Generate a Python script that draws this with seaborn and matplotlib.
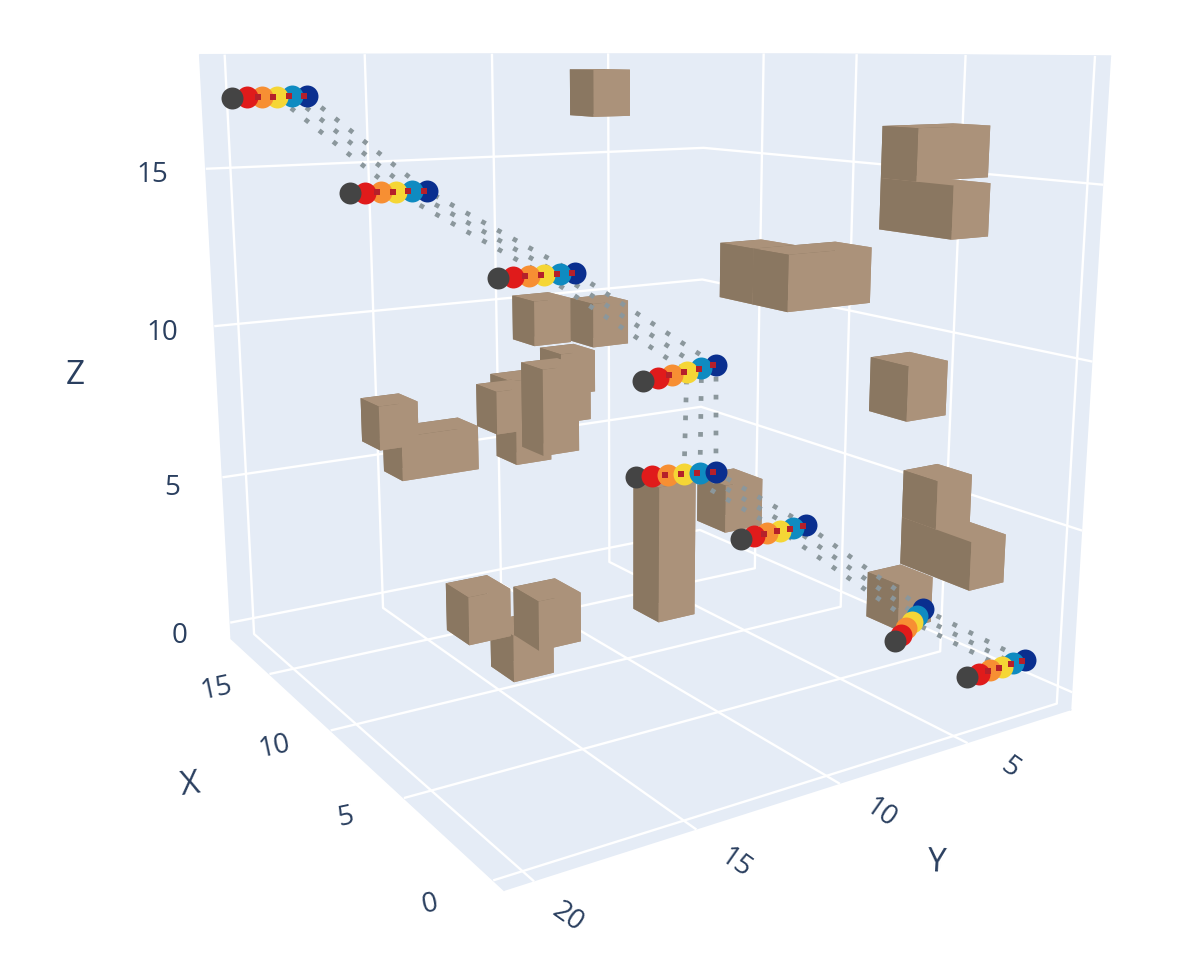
import numpy as np
import seaborn as sns
import matplotlib
matplotlib.use('Agg')
import matplotlib.pyplot as plt
from matplotlib.patches import Rectangle

W, H = 1196, 966
TEXT = '#2a3f5f'
PANE = '#e5ecf6'
LIGHT = '#ab927a'
DARK = '#8a7761'

# obstacle blocks, back to front (y is the near side)
BOX_X = [14.1, 1.5, 3.0, 2.9, 1.4, -0.1, 7.2, 9.6, 1.5, 3.0, 4.7, 9.7, 9.5, 7.1, 16.0, 16.9,
         17.1, 16.4, 16.4, 17.0, 17.0, 15.0, 14.7, 14.8]
BOX_Y = [8.6, 4.4, 4.4, 10.6, 10.6, 7.5, 8.1, 9.0, 3.0, 3.0, 2.8, 14.6, 16.3, 15.2, 15.3, 15.7,
         10.1, 10.7, 11.3, 8.4, 8.2, 10.2, 10.7, 8.2]
BOX_Z = [16.5, 13.5, 15.0, 12.0, 12.0, 9.0, 4.1, 0.6, 3.0, 4.5, 0.7, -0.3, 1.3, 1.7, 4.7, 5.6,
         4.3, 6.0, 5.7, 5.6, 6.6, 5.1, 9.0, 8.7]
BOX_NX = [1, 2, 1, 1, 1, 1, 1, 1, 2, 1, 1, 1, 1, 1, 1, 1, 1, 1, 1, 1, 1, 1, 1, 1]
BOX_NY = [1, 1, 2, 1, 2, 1, 1, 1, 1, 1, 1, 1, 1, 1, 2, 1, 1, 1, 1, 1, 1, 1, 1, 1]
BOX_NZ = [1, 1, 1, 1, 1, 1, 1, 3, 1, 1, 1, 1, 1, 1, 1, 1, 1, 1, 1, 1, 1, 2, 1, 1]
CELL = 1.5

# waypoints of the six robots, one row per waypoint
STATION_X = [16, 14, 12, 10, 10, 8, 6, 2]
STATION_Y = [[20.77, 20.28, 19.79, 19.29, 18.78, 18.27],
             [17.79, 17.26, 16.73, 16.19, 15.64, 15.09],
             [13.64, 13.07, 12.50, 11.91, 11.32, 10.72],
             [9.38, 8.80, 8.21, 7.61, 7.00, 6.39],
             [9.66, 9.01, 8.36, 7.69, 7.02, 6.34],
             [6.81, 6.26, 5.70, 5.14, 4.58, 4.00],
             [1.63, 1.38, 1.13, 0.87, 0.62, 0.36],
             [2.38, 1.86, 1.34, 0.81, 0.27, -0.27]]
STATION_Z = [[17.25, 17.26, 17.26, 17.26, 17.27, 17.27],
             [14.46, 14.44, 14.43, 14.42, 14.41, 14.39],
             [11.83, 11.82, 11.81, 11.79, 11.78, 11.77],
             [8.51, 8.55, 8.59, 8.63, 8.67, 8.72],
             [5.44, 5.39, 5.33, 5.27, 5.21, 5.15],
             [3.48, 3.48, 3.49, 3.49, 3.49, 3.50],
             [-0.31, -0.14, 0.04, 0.21, 0.38, 0.56],
             [-0.01, -0.01, -0.01, -0.01, -0.01, -0.01]]
ROBOT_COLORS = ['#444444', '#e01b1b', '#f78f33', '#f5d635', '#0f8bc1', '#0a2f8f']
PATH_ROBOTS = [3, 4, 5]
NAVY_ON_TOP = [4]
NO_RED_MARK = [6]

X_TICKS = [0, 5, 10, 15]
Y_TICKS = [5, 10, 15, 20]
Z_TICKS = [0, 5, 10, 15]
X_TICK_PX = [(430, 905), (345, 818), (275, 747), (217, 689)]
Y_TICK_PX = [(1010, 768), (880, 813), (735, 863), (568, 917)]
Z_TICK_PX = [(180, 636), (172, 488), (162, 333), (152, 175)]

sns.set_theme(style='white', rc={'grid.color': 'white', 'grid.linewidth': 1.7, 'axes.grid': True})
plt.rcParams['font.family'] = ['Open Sans', 'DejaVu Sans']
palette = sns.color_palette(ROBOT_COLORS)

fig = plt.figure(figsize=(W / 100, H / 100), dpi=100, facecolor='white')
scale, tx, ty = 5728.83, 627.34, 376.32
side = scale * 0.185
left = tx - scale * 0.095
bottom = ty + scale * 0.095
ax = fig.add_axes([left / W, (H - bottom) / H, side / W, side / H], projection='3d', computed_zorder=False)
ax.patch.set_alpha(0)
ax.set_box_aspect((1, 0.9979, 0.9966))
ax.view_init(11.7918, 147.3315)
ax.set_proj_type('persp', focal_length=0.2772)

face_colors = [LIGHT, LIGHT, LIGHT, DARK, LIGHT, DARK]
for i in range(len(BOX_X)):
    dx, dy, dz = BOX_NX[i] * CELL, BOX_NY[i] * CELL, BOX_NZ[i] * CELL
    ax.bar3d(BOX_X[i], BOX_Y[i] - dy, BOX_Z[i], dx, dy, dz, color=face_colors, shade=False,
             edgecolor='none', zorder=2 + i * 0.01)

sx = np.array(STATION_X, dtype=float)
sy = np.array(STATION_Y)
sz = np.array(STATION_Z)
for r in PATH_ROBOTS:
    ax.plot(sx, sy[:, r], sz[:, r], color='#8b979c', lw=3.4, ls=(0, (1, 2.8)), zorder=4)

for s in range(len(sx)):
    order = range(6) if s in NAVY_ON_TOP else range(5, -1, -1)
    for k, r in enumerate(order):
        ax.scatter([sx[s]], [sy[s, r]], [sz[s, r]], s=250, color=palette[r], depthshade=False,
                   linewidths=0, zorder=5 + s + k * 0.01)
    if s not in NO_RED_MARK:
        ax.scatter(np.full(4, sx[s]), sy[s, 2:] + 0.12, sz[s, 2:], s=22, marker='s', color='#b5202a',
                   depthshade=False, linewidths=0, zorder=5 + s + 0.5)

ax.set_autoscale_on(False)
ax.set_xlim(-0.564, 18.6134, view_margin=0)
ax.set_ylim(0.4922, 20.8442, view_margin=0)
ax.set_zlim(-0.5639, 18.5, view_margin=0)
ax.set_xticks(X_TICKS)
ax.set_yticks(Y_TICKS)
ax.set_zticks(Z_TICKS)
for axis in (ax.xaxis, ax.yaxis, ax.zaxis):
    axis.set_pane_color(PANE)
    axis.pane.set_edgecolor(PANE)
    axis.line.set_color((1, 1, 1, 0))
    axis.set_ticklabels([])
    axis._axinfo['tick']['inward_factor'] = 0
    axis._axinfo['tick']['outward_factor'] = 0

# plotly clips the scene at the top of its viewport
fig.add_artist(Rectangle((0, 1 - 52 / H), 1, 52 / H, transform=fig.transFigure, color='white', zorder=10))


def put_text(px, label, size=20, rot=0):
    fig.text(px[0] / W, 1 - px[1] / H, label, color=TEXT, fontsize=size, rotation=rot, ha='center', va='center',
             rotation_mode='anchor', zorder=11)


for t, p in zip(X_TICKS, X_TICK_PX):
    put_text(p, str(t), rot=12)
for t, p in zip(Y_TICKS, Y_TICK_PX):
    put_text(p, str(t), rot=-35)
for t, p in zip(Z_TICKS, Z_TICK_PX):
    put_text(p, str(t))
put_text((190, 785), 'X', 24, 8)
put_text((937, 863), 'Y', 24, -3)
put_text((75, 376), 'Z', 24)

fig.savefig('out.png', dpi=100, facecolor='white')
